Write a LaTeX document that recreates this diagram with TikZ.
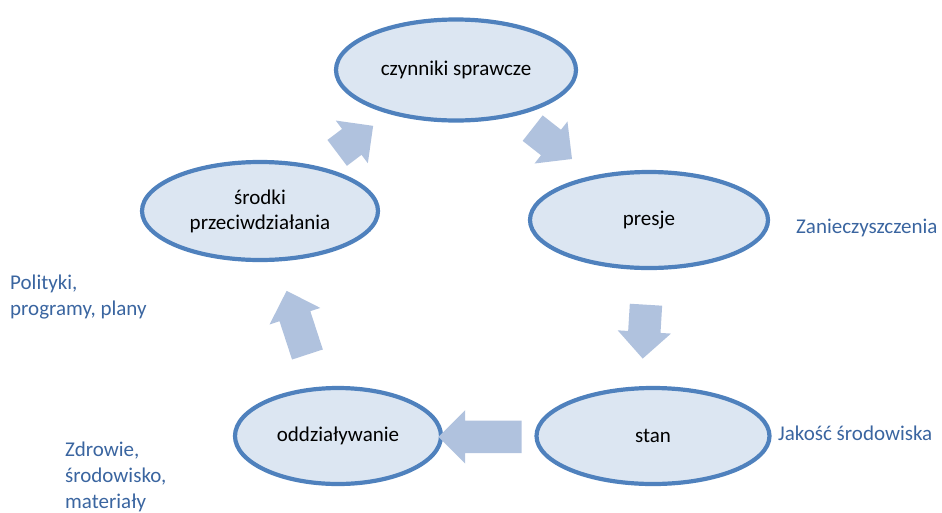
\documentclass[tikz,border=0pt]{standalone}
\usepackage{fontspec}
\setmainfont{Carlito}
\usetikzlibrary{shapes.geometric,shapes.arrows}
\definecolor{efill}{RGB}{220,230,242}
\definecolor{edraw}{RGB}{79,129,189}
\definecolor{afill}{RGB}{176,194,222}
\definecolor{tblue}{RGB}{58,101,160}
\begin{document}
\begin{tikzpicture}[x=1pt,y=-1pt,
  cyc/.style={ellipse,draw=edraw,fill=efill,line width=4.2pt,inner sep=0pt,
    font=\fontsize{21}{25}\selectfont,align=center},
  barrow/.style={single arrow,fill=afill,draw=none,inner xsep=0pt,inner ysep=16pt,
    single arrow head extend=10.5pt,single arrow tip angle=90,anchor=tail},
  side/.style={text=tblue,font=\fontsize{21}{26}\selectfont,align=left,
    anchor=base west,inner sep=0pt}]
\useasboundingbox (0,0) rectangle (942,512);
\node[cyc,minimum width=240pt,minimum height=101pt] (cz) at (456,70) {czynniki sprawcze};
\node[cyc,minimum width=238pt,minimum height=96pt] (pr) at (649,220) {presje};
\node[cyc,minimum width=233pt,minimum height=96pt] (st) at (653,436) {stan};
\node[cyc,minimum width=206pt,minimum height=96pt] (od) at (338,436) {oddziaływanie};
\node[cyc,minimum width=236pt,minimum height=98pt] (sr) at (260,211) {środki\\przeciwdziałania};
\node[barrow,minimum height=45pt,rotate=36.9] (a1) at (337,153) {};
\node[barrow,minimum height=50pt,rotate=-38.1] (a2) at (532.5,128) {};
\node[barrow,minimum height=54pt,rotate=-93.5] (a3) at (646,304.5) {};
\node[barrow,minimum height=83pt,rotate=180] (a4) at (521.7,436.8) {};
\node[barrow,minimum height=67pt,rotate=108.1] (a5) at (307.5,354.7) {};
\node[side] (l1) at (796,233) {Zanieczyszczenia};
\node[side] (l2) at (778,440) {Jakość środowiska};
\node[side] (l3) at (10,315) {Polityki,\\programy, plany};
\node[side] (l4) at (65,508) {Zdrowie,\\środowisko,\\materiały};
\end{tikzpicture}
\end{document}
